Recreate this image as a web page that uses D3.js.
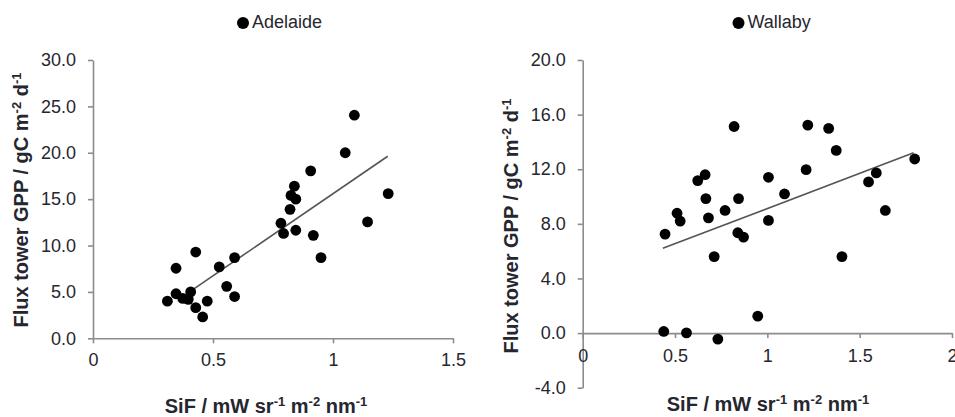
<!DOCTYPE html>
<html>
<head>
<meta charset="utf-8">
<script src="https://cdn.jsdelivr.net/npm/d3@7"></script>
<style>
  html, body { margin: 0; padding: 0; background: #fff; }
  svg { display: block; }
  text { font-family: "Liberation Sans", Arial, sans-serif; fill: #26262f; }
</style>
</head>
<body>
<svg id="chart" width="955" height="417"></svg>
<script>
// Adelaide site: SiF vs flux-tower GPP
const adelaideSif = [0.31, 0.346, 0.346, 0.374, 0.407, 0.397, 0.428, 0.428, 0.457, 0.476,
  0.526, 0.557, 0.59, 0.59, 0.783, 0.794, 0.821, 0.825, 0.839, 0.845, 0.845, 0.907,
  0.918, 0.95, 1.051, 1.089, 1.144, 1.23];
const adelaideGpp = [4.0, 7.55, 4.8, 4.3, 5.0, 4.2, 9.3, 3.3, 2.3, 4.0,
  7.7, 5.6, 8.7, 4.5, 12.4, 11.3, 13.9, 15.4, 16.4, 15.0, 11.65, 18.05,
  11.1, 8.7, 20.0, 24.05, 12.55, 15.6];
// linear fit: [slope, intercept] and x range of the drawn line
const adelaideFitCoef = [17.7, -2.11];
const adelaideFitX = [0.422, 1.228];

// Wallaby site
const wallabySif = [0.446, 0.439, 0.511, 0.528, 0.562, 0.623, 0.663, 0.667, 0.681, 0.712,
  0.732, 0.771, 0.82, 0.844, 0.84, 0.871, 0.948, 1.006, 1.006, 1.093, 1.21, 1.219,
  1.332, 1.373, 1.404, 1.548, 1.59, 1.639, 1.798];
const wallabyGpp = [7.25, 0.12, 8.78, 8.2, 0.02, 11.17, 11.6, 9.85, 8.44, 5.6,
  -0.44, 8.98, 15.13, 9.85, 7.35, 7.03, 1.24, 11.41, 8.25, 10.19, 11.97, 15.23,
  14.99, 13.38, 5.6, 11.07, 11.73, 8.98, 12.75];
const wallabyFitCoef = [5.15, 3.97];
const wallabyFitX = [0.434, 1.792];

// tick labels
const adelaideYTicks = [0, 5, 10, 15, 20, 25, 30];
const adelaideXTicks = [0, 0.5, 1, 1.5];
const wallabyYTicks = [-4, 0, 4, 8, 12, 16, 20];
const wallabyXTicks = [0, 0.5, 1, 1.5, 2];

const svg = d3.select("#chart");
const axisColor = "#8c8c8c";
// one decimal, plain hyphen for negatives
const fmtY = d => d.toFixed(1);

function panel(opts) {
  const g = svg.append("g");
  const x = d3.scaleLinear().domain(opts.xDomain).range(opts.xRange);
  const y = d3.scaleLinear().domain(opts.yDomain).range(opts.yRange);

  // y axis
  const ya = g.append("g")
    .attr("transform", `translate(${x(0)},0)`)
    .call(d3.axisLeft(y).tickValues(opts.yTicks).tickFormat(fmtY)
      .tickSize(5).tickSizeOuter(0).tickPadding(12));
  // x axis, crossing at y = 0
  const xa = g.append("g")
    .attr("transform", `translate(0,${y(0)})`)
    .call(d3.axisBottom(x).tickValues(opts.xTicks).tickFormat(d => String(d))
      .tickSize(5).tickSizeOuter(0).tickPadding(opts.xPad));
  [ya, xa].forEach(a => {
    a.select(".domain").attr("stroke", axisColor).attr("stroke-width", 1.6);
    a.selectAll(".tick line").attr("stroke", axisColor).attr("stroke-width", 1.6);
    a.selectAll(".tick text").style("font-size", "18px")
      .style("font-family", '"Liberation Sans", Arial, sans-serif').attr("fill", "#26262f");
  });

  // fitted line
  const [m, b] = opts.fitCoef;
  g.append("line")
    .attr("x1", x(opts.fitX[0])).attr("y1", y(m * opts.fitX[0] + b))
    .attr("x2", x(opts.fitX[1])).attr("y2", y(m * opts.fitX[1] + b))
    .attr("stroke", "#555").attr("stroke-width", 1.6);

  // points
  g.selectAll("circle.pt").data(d3.range(opts.xs.length)).join("circle")
    .attr("class", "pt")
    .attr("cx", i => x(opts.xs[i])).attr("cy", i => y(opts.ys[i]))
    .attr("r", 5.4).attr("fill", "#000");

  // legend
  g.append("circle").attr("cx", opts.legend[0]).attr("cy", opts.legend[1] - 5)
    .attr("r", 6).attr("fill", "#000");
  g.append("text").attr("x", opts.legend[0] + 9).attr("y", opts.legend[1])
    .style("font-size", "18px").text(opts.name);

  // x title
  const xt = g.append("text").attr("x", opts.xTitle[0]).attr("y", opts.xTitle[1])
    .attr("text-anchor", "middle").style("font-size", "20px").style("font-weight", "bold");
  xt.append("tspan").text("SiF / mW sr");
  xt.append("tspan").attr("dy", -7).style("font-size", "13px").text("-1");
  xt.append("tspan").attr("dy", 7).text(" m");
  xt.append("tspan").attr("dy", -7).style("font-size", "13px").text("-2");
  xt.append("tspan").attr("dy", 7).text(" nm");
  xt.append("tspan").attr("dy", -7).style("font-size", "13px").text("-1");

  // y title
  const yt = g.append("text")
    .attr("transform", `translate(${opts.yTitle[0]},${opts.yTitle[1]}) rotate(-90)`)
    .attr("text-anchor", "middle").style("font-size", "20px").style("font-weight", "bold");
  yt.append("tspan").text("Flux tower GPP / gC m");
  yt.append("tspan").attr("dy", -7).style("font-size", "13px").text("-2");
  yt.append("tspan").attr("dy", 7).text(" d");
  yt.append("tspan").attr("dy", -7).style("font-size", "13px").text("-1");
}

panel({
  name: "Adelaide", xs: adelaideSif, ys: adelaideGpp,
  fitCoef: adelaideFitCoef, fitX: adelaideFitX,
  xDomain: [0, 1.5], xRange: [93, 453], yDomain: [0, 30], yRange: [338.3, 60],
  xTicks: adelaideXTicks, yTicks: adelaideYTicks, xPad: 10,
  legend: [243, 28], xTitle: [266, 413], yTitle: [28, 200]
});

panel({
  name: "Wallaby", xs: wallabySif, ys: wallabyGpp,
  fitCoef: wallabyFitCoef, fitX: wallabyFitX,
  xDomain: [0, 2], xRange: [582.7, 952], yDomain: [-4, 20], yRange: [387.7, 60],
  xTicks: wallabyXTicks, yTicks: wallabyYTicks, xPad: 11,
  legend: [738.5, 28], xTitle: [768, 411], yTitle: [518, 226]
});
</script>
</body>
</html>
